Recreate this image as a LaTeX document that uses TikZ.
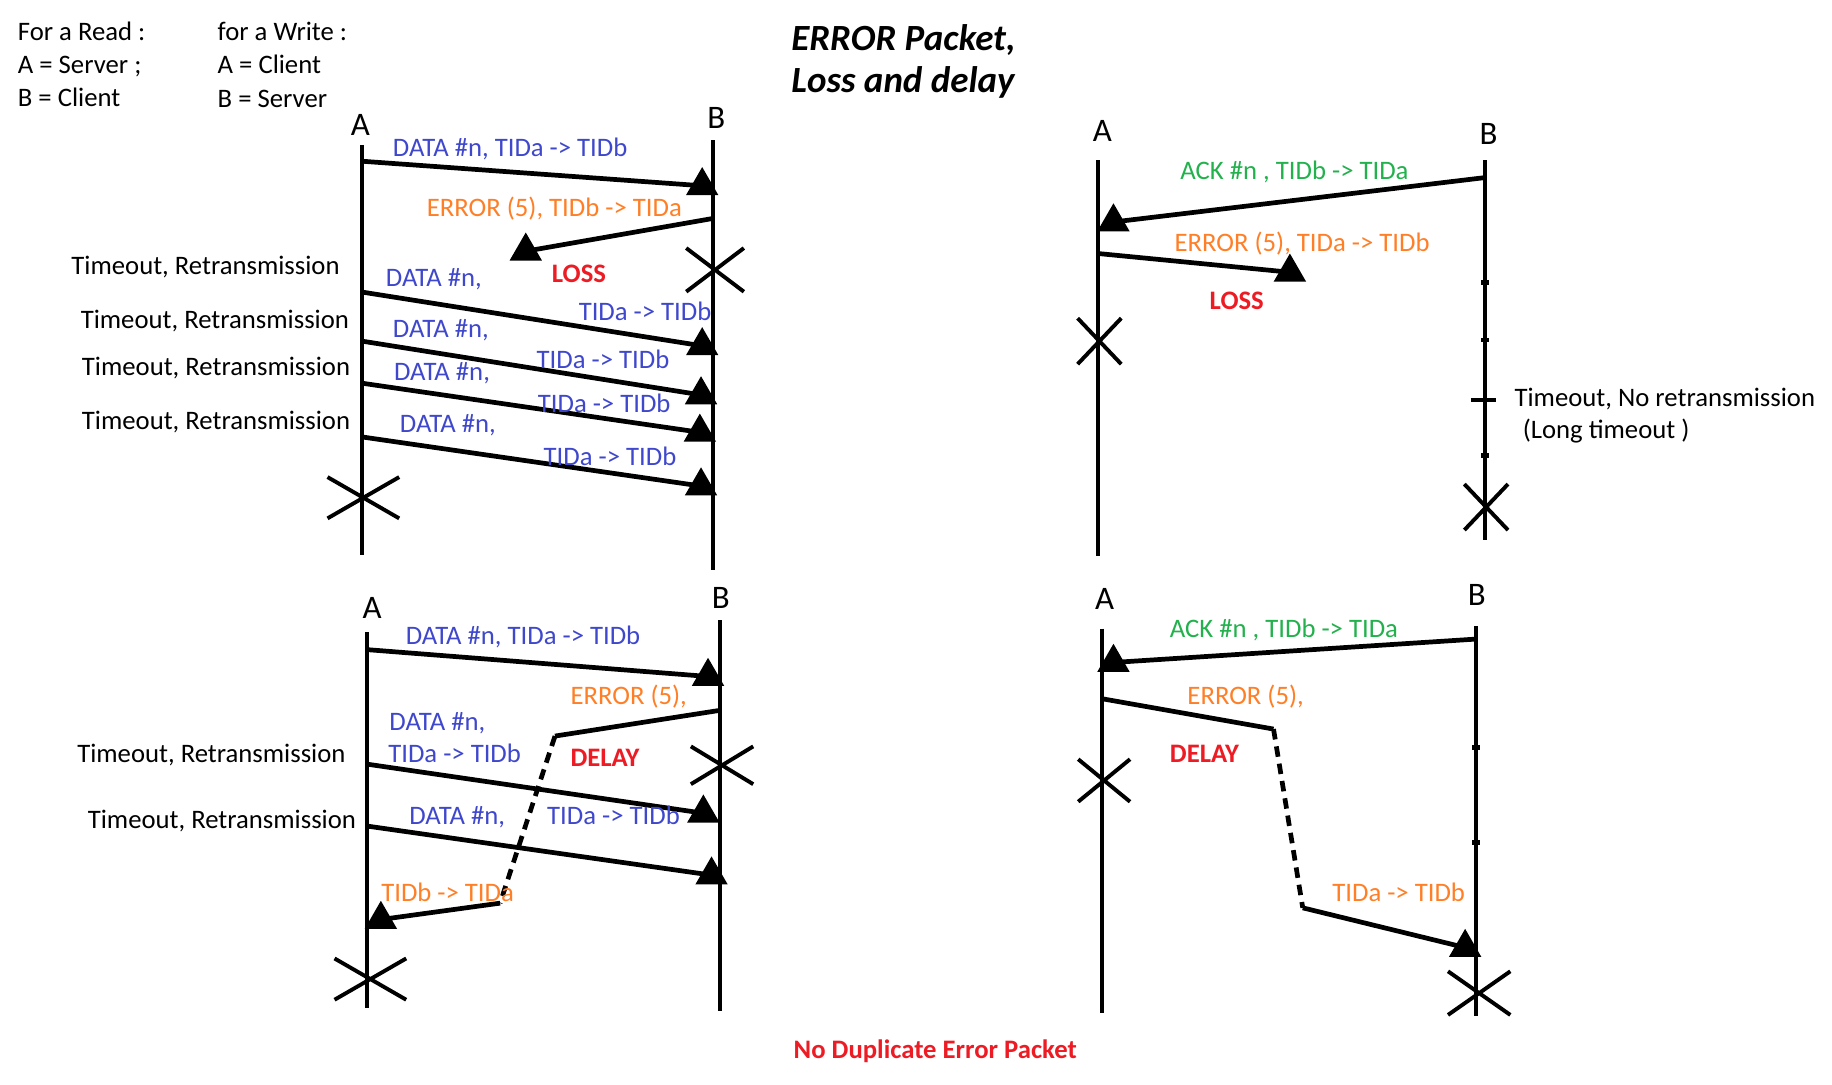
\documentclass[tikz,border=0pt]{standalone}
\usepackage{fontspec}
\setmainfont{Carlito}
\usetikzlibrary{shapes.geometric,shapes.misc}
\definecolor{paintblue}{RGB}{63,72,204}
\definecolor{paintorange}{RGB}{255,127,39}
\definecolor{paintgreen}{RGB}{34,177,76}
\definecolor{paintred}{RGB}{237,28,36}

\begin{document}
\begin{tikzpicture}[x=0.2mm,y=-0.2mm,font=\fontsize{13}{15}\selectfont,
 txt/.style={anchor=base west,inner sep=0pt},
 rtxt/.style={anchor=base east,inner sep=0pt},
 side/.style={txt,font=\fontsize{16}{19}\selectfont},
 data/.style={txt,text=paintblue},
 err/.style={txt,text=paintorange},
 ack/.style={txt,text=paintgreen},
 note/.style={txt,text=paintred,font=\fontsize{13}{15}\selectfont\bfseries},
 life/.style={line width=1.9pt},
 msg/.style={line width=2.3pt},
 late/.style={msg,dash pattern=on 1.8mm off 1.2mm},
 tip/.style={regular polygon,regular polygon sides=3,fill=black,inner sep=0pt,minimum size=6.4mm},
 gone/.style={cross out,draw=black,line width=1.9pt,inner sep=0pt},
 tick/.style={fill=black,inner sep=0pt,minimum width=1.4mm,minimum height=0.8mm}]
\path[use as bounding box,fill=white] (0,0) rectangle (1568,928);

\node[txt] (read) at (15,35) {For a Read :};
\node[txt] (reada) at (15,63) {A = Server ;};
\node[txt] (readb) at (15,91) {B = Client};
\node[txt] (write) at (186,35) {for a Write :};
\node[txt] (writea) at (186,63) {A = Client};
\node[txt] (writeb) at (186,92) {B = Server};
\node[txt,font=\fontsize{18}{22}\selectfont\bfseries\itshape] (title) at (677,43) {ERROR Packet,};
\node[txt,font=\fontsize{18}{22}\selectfont\bfseries\itshape] (subtitle) at (677,79) {Loss and delay};
\node[note] (nodup) at (679,906) {No Duplicate Error Packet};

\node[side] (a1) at (300,116) {A};
\node[side] (b1) at (605,110) {B};
\draw[life] (310,124) -- (310,475);
\draw[life] (610,120) -- (610,488);
\coordinate (p1d) at (310,138);
\node[tip] (p1dt) at (601,159) {};
\draw[msg] (p1d) -- (p1dt.center);
\node[data] (p1dl) at (336,134) {DATA \#n, TIDa -> TIDb};
\coordinate (p1e) at (610,187);
\node[tip] (p1et) at (450,215) {};
\draw[msg] (p1e) -- (p1et.center);
\node[err] (p1el) at (365,185) {ERROR (5), TIDb -> TIDa};
\node[gone,minimum width=9.2mm,minimum height=6.8mm] (p1xb) at (612,231) {};
\node[note] (p1loss) at (472,242) {LOSS};
\node[rtxt] (p1to1) at (291,235) {Timeout, Retransmission};
\coordinate (p1r1) at (310,250);
\node[tip] (p1r1t) at (601,296) {};
\draw[msg] (p1r1) -- (p1r1t.center);
\node[data] (p1r1a) at (330,245) {DATA \#n,};
\node[data] (p1r1b) at (495,274) {TIDa -> TIDb};
\node[rtxt] (p1to2) at (299,281) {Timeout, Retransmission};
\coordinate (p1r2) at (310,292);
\node[tip] (p1r2t) at (600,338) {};
\draw[msg] (p1r2) -- (p1r2t.center);
\node[data] (p1r2a) at (336,289) {DATA \#n,};
\node[data] (p1r2b) at (459,315) {TIDa -> TIDb};
\node[rtxt] (p1to3) at (300,321) {Timeout, Retransmission};
\coordinate (p1r3) at (310,328);
\node[tip] (p1r3t) at (599,370) {};
\draw[msg] (p1r3) -- (p1r3t.center);
\node[data] (p1r3a) at (337,326) {DATA \#n,};
\node[data] (p1r3b) at (460,353) {TIDa -> TIDb};
\node[rtxt] (p1to4) at (300,368) {Timeout, Retransmission};
\coordinate (p1r4) at (310,374);
\node[tip] (p1r4t) at (600,416) {};
\draw[msg] (p1r4) -- (p1r4t.center);
\node[data] (p1r4a) at (342,370) {DATA \#n,};
\node[data] (p1r4b) at (465,398) {TIDa -> TIDb};
\node[gone,minimum width=11.6mm,minimum height=6.4mm] (p1xa) at (311,426) {};

\node[side] (a2) at (935,121) {A};
\node[side] (b2) at (1266,124) {B};
\draw[life] (940,137) -- (940,476);
\draw[life] (1271,137) -- (1271,462);
\coordinate (p2a) at (1271,152);
\node[tip] (p2at) at (953,190) {};
\draw[msg] (p2a) -- (p2at.center);
\node[ack] (p2al) at (1010,154) {ACK \#n , TIDb -> TIDa};
\coordinate (p2e) at (940,217);
\node[tip] (p2et) at (1104,233) {};
\draw[msg] (p2e) -- (p2et.center);
\node[err] (p2el) at (1005,215) {ERROR (5), TIDa -> TIDb};
\node[note] (p2loss) at (1035,265) {LOSS};
\node[gone,minimum width=6.8mm,minimum height=7.2mm] (p2xa) at (941,292) {};
\node[tick] (p2k1) at (1271,242) {};
\node[tick] (p2k2) at (1271,291) {};
\node[tick] (p2k3) at (1271,390) {};
\draw[life] (1259,342) -- (1280,342);
\node[txt] (p2to) at (1296,348) {Timeout, No retransmission};
\node[txt] (p2long) at (1303,375) {(Long timeout )};
\node[gone,minimum width=6.8mm,minimum height=7.2mm] (p2xb) at (1272,434) {};

\node[side] (a3) at (310,529) {A};
\node[side] (b3) at (609,521) {B};
\draw[life] (314,541) -- (314,863);
\draw[life] (616,531) -- (616,865);
\coordinate (p3d) at (314,556);
\node[tip] (p3dt) at (606,579) {};
\draw[msg] (p3d) -- (p3dt.center);
\node[data] (p3dl) at (347,552) {DATA \#n, TIDa -> TIDb};
\coordinate (p3e) at (616,608);
\coordinate (p3e1) at (475,630);
\coordinate (p3e2) at (428,773);
\node[tip] (p3et) at (326,787) {};
\draw[msg] (p3e) -- (p3e1);
\draw[late] (p3e1) -- (p3e2);
\draw[msg] (p3e2) -- (p3et.center);
\node[err] (p3el) at (488,603) {ERROR (5),};
\node[err] (p3el2) at (326,772) {TIDb -> TIDa};
\node[note] (p3delay) at (488,656) {DELAY};
\node[gone,minimum width=10mm,minimum height=5.8mm] (p3xb) at (618,655) {};
\node[rtxt] (p3to1) at (296,653) {Timeout, Retransmission};
\coordinate (p3r1) at (314,654);
\node[tip] (p3r1t) at (602,696) {};
\draw[msg] (p3r1) -- (p3r1t.center);
\node[data] (p3r1a) at (333,625) {DATA \#n,};
\node[data] (p3r1b) at (332,653) {TIDa -> TIDb};
\node[rtxt] (p3to2) at (305,709) {Timeout, Retransmission};
\coordinate (p3r2) at (314,707);
\node[tip] (p3r2t) at (609,749) {};
\draw[msg] (p3r2) -- (p3r2t.center);
\node[data] (p3r2a) at (350,706) {DATA \#n,};
\node[data] (p3r2b) at (468,706) {TIDa -> TIDb};
\node[gone,minimum width=11.6mm,minimum height=6.4mm] (p3xa) at (317,838) {};

\node[side] (a4) at (937,522) {A};
\node[side] (b4) at (1256,518) {B};
\draw[life] (943,538) -- (943,867);
\draw[life] (1263,536) -- (1263,870);
\coordinate (p4a) at (1263,547);
\node[tip] (p4at) at (953,567) {};
\draw[msg] (p4a) -- (p4at.center);
\node[ack] (p4al) at (1001,546) {ACK \#n , TIDb -> TIDa};
\coordinate (p4e) at (943,598);
\coordinate (p4e1) at (1090,624);
\coordinate (p4e2) at (1115,777);
\node[tip] (p4et) at (1254,811) {};
\draw[msg] (p4e) -- (p4e1);
\draw[late] (p4e1) -- (p4e2);
\draw[msg] (p4e2) -- (p4et.center);
\node[err] (p4el) at (1016,603) {ERROR (5),};
\node[err] (p4el2) at (1140,772) {TIDa -> TIDb};
\node[note] (p4delay) at (1001,653) {DELAY};
\node[gone,minimum width=8.2mm,minimum height=6.6mm] (p4xa) at (945,668) {};
\node[tick] (p4k1) at (1263,640) {};
\node[tick] (p4k2) at (1263,721) {};
\node[gone,minimum width=10mm,minimum height=6.8mm] (p4xb) at (1266,850) {};
\end{tikzpicture}
\end{document}
